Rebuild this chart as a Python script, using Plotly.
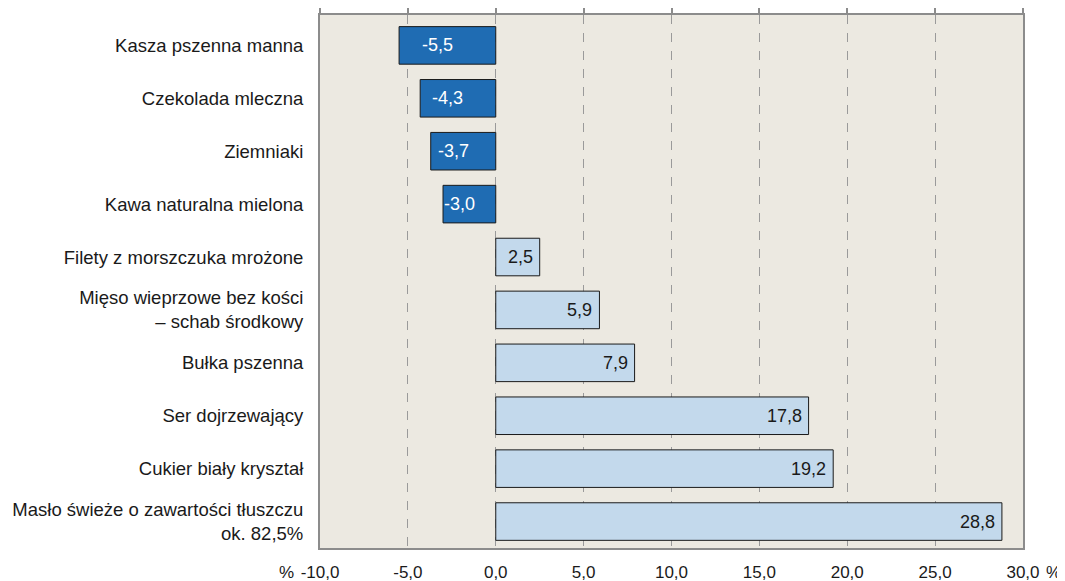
import plotly.graph_objects as go

categories = [
    "Kasza pszenna manna",
    "Czekolada mleczna",
    "Ziemniaki",
    "Kawa naturalna mielona",
    "Filety z morszczuka mrożone",
    "Mięso wieprzowe bez kości<br>– schab środkowy",
    "Bułka pszenna",
    "Ser dojrzewający",
    "Cukier biały kryształ",
    "Masło świeże o zawartości tłuszczu<br>ok. 82,5%",
]
values = [-5.5, -4.3, -3.7, -3.0, 2.5, 5.9, 7.9, 17.8, 19.2, 28.8]
tick_vals = [-10, -5, 0, 5, 10, 15, 20, 25, 30]
tick_text = ["-10,0", "-5,0", "0,0", "5,0", "10,0", "15,0", "20,0", "25,0", "30,0"]

NEG = "#1f6cb3"
POS = "#c3d9ec"
FONT = "Liberation Sans, Arial, sans-serif"
FS_CAT = 18.5
FS_TICK = 17
FS_BAR = 18
colors = [NEG if v < 0 else POS for v in values]
labels = [f"{v:.1f}".replace(".", ",") for v in values]

fig = go.Figure()
fig.add_trace(go.Bar(
    x=values, y=categories, orientation="h",
    marker=dict(color=colors, line=dict(color="#1a1a1a", width=1)),
    width=0.71, hoverinfo="skip",
))
# invisible trace for the top axis
fig.add_trace(go.Scatter(x=[0], y=[categories[0]], xaxis="x2", mode="markers",
                         marker=dict(opacity=0), showlegend=False, hoverinfo="skip"))

annotations = []
for cat, v, lab in zip(categories, values, labels):
    if v < 0:
        annotations.append(dict(x=v / 2, y=cat, xref="x", yref="y", text=lab,
                                showarrow=False, xanchor="center", xshift=-10,
                                font=dict(family=FONT, size=FS_BAR, color="white")))
    else:
        annotations.append(dict(x=v, y=cat, xref="x", yref="y", text=lab,
                                showarrow=False, xanchor="right", xshift=-5,
                                font=dict(family=FONT, size=FS_BAR, color="#1a1a1a")))
# percent signs beside the outer tick labels
annotations.append(dict(x=tick_vals[0], y=0, xref="x", yref="paper", text="%",
                        showarrow=False, xanchor="right", yanchor="top",
                        xshift=-24, yshift=-13, font=dict(family=FONT, size=FS_TICK, color="#1a1a1a")))
annotations.append(dict(x=tick_vals[-1], y=0, xref="x", yref="paper", text="%",
                        showarrow=False, xanchor="left", yanchor="top",
                        xshift=21, yshift=-13, font=dict(family=FONT, size=FS_TICK, color="#1a1a1a")))

fig.update_layout(
    width=1065, height=581,
    margin=dict(l=312, r=50, t=7, b=41),
    paper_bgcolor="white", plot_bgcolor="#ece9e1",
    showlegend=False,
    font=dict(family=FONT, size=FS_CAT, color="#1a1a1a"),
    annotations=annotations,
    xaxis=dict(
        range=[-10, 30], tickmode="array", tickvals=tick_vals, ticktext=tick_text,
        showgrid=True, gridcolor="#9a9a9a", griddash="dash", gridwidth=1,
        zeroline=False, showline=True, linecolor="#8c8c8c", linewidth=2,
        mirror=False, ticks="", ticklabelstandoff=8, automargin=False,
        tickfont=dict(family=FONT, size=FS_TICK, color="#1a1a1a"),
    ),
    xaxis2=dict(
        range=[-10, 30], overlaying="x", side="top", tickmode="array",
        tickvals=tick_vals, showticklabels=False, ticks="outside", ticklen=5,
        tickcolor="#8c8c8c", tickwidth=1.5, showline=True, linecolor="#8c8c8c",
        linewidth=2, showgrid=False, zeroline=False, automargin=False,
    ),
    yaxis=dict(
        autorange="reversed", showline=True, linecolor="#8c8c8c", linewidth=2,
        mirror=True, ticks="", ticklabelstandoff=11, showgrid=False, automargin=False,
        tickfont=dict(family=FONT, size=FS_CAT, color="#1a1a1a"),
    ),
)

fig.write_html("out.html")
